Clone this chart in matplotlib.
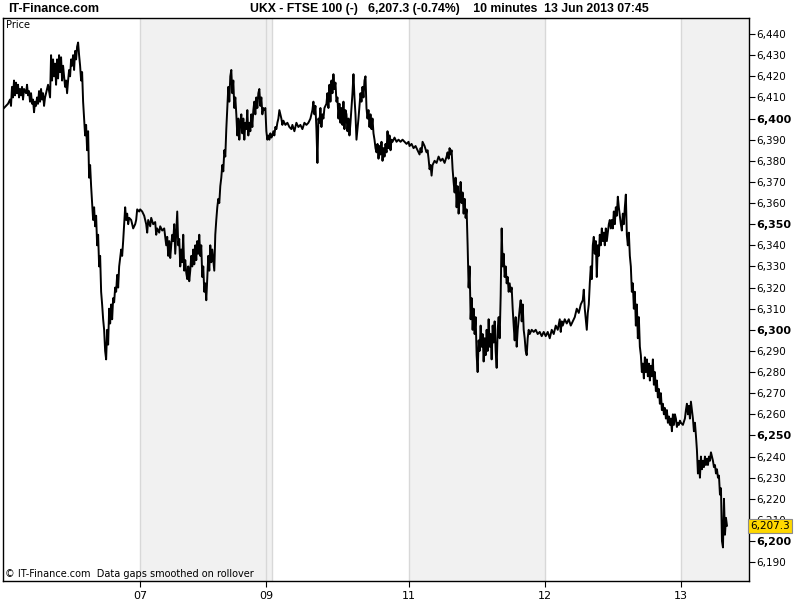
import matplotlib
matplotlib.use("Agg")
import matplotlib.pyplot as plt
import matplotlib.transforms as mtransforms
from matplotlib.ticker import FixedLocator, FuncFormatter

# 10-minute bars, x = bar number, y = FTSE 100 price
jun06 = [(5,6405),(7,6406),(9,6407),(11,6409),(12,6406),(13,6415),(14,6410),(15,6418),(16,6411),
         (17,6417),(18,6412),(19,6416),(20,6410),(21,6414),(22,6411),(23,6415),(24,6409),(25,6414),
         (27,6412),(28,6416),(29,6411),(30,6413),(31,6408),(32,6412),(33,6407),(34,6409),(35,6403),
         (36,6408),(37,6406),(38,6410),(39,6407),(40,6413),(41,6408),(42,6414),(43,6409),(44,6412),
         (45,6406),(46,6410),(48,6414),(49,6416),(50,6413),(51,6410),(52,6430),(53,6418),(54,6428),
         (55,6420),(56,6426),(57,6416),(58,6428),(59,6419),(60,6430),(61,6422),(62,6429),(63,6418),
         (64,6425),(65,6420),(66,6415),(67,6418),(68,6412),(69,6418),(70,6423),(71,6420),(72,6428),
         (73,6425),(74,6430),(75,6423),(76,6432),(77,6428),(78,6434),(79,6436),(80,6430),(81,6425),
         (82,6418),(83,6422),(84,6408),(85,6400),(86,6392),(87,6397),(88,6385),(89,6394),(90,6372),
         (91,6378),(92,6368),(93,6360),(94,6352),(95,6358),(96,6349),(97,6354),(98,6340),(99,6345),
         (100,6330),(101,6335),(102,6318),(103,6312),(104,6305),(105,6300),(106,6290),(107,6286),
         (108,6300),(109,6293),(110,6310),(111,6303),(112,6312),(113,6305),(114,6315),(115,6313),
         (116,6320),(117,6318),(118,6326),(119,6320),(120,6330),(121,6334),(122,6338),(123,6335),
         (124,6342),(125,6350),(126,6358),(127,6352),(128,6355),(129,6350),(130,6353),(132,6352),
         (134,6348),(136,6350),(137,6352),(138,6357),(140,6356)]

jun07 = [(141,6357),(143,6356),(145,6354),(147,6350),(148,6346),(149,6352),(151,6349),(152,6353),
         (154,6350),(156,6351),(157,6345),(158,6348),(160,6346),(161,6349),(163,6347),(165,6348),
         (167,6340),(168,6344),(169,6335),(170,6342),(171,6334),(172,6340),(173,6345),(174,6342),
         (175,6350),(176,6336),(178,6356),(179,6340),(180,6343),(181,6330),(182,6338),(183,6332),
         (184,6345),(185,6328),(186,6333),(187,6327),(188,6324),(189,6330),(190,6323),(191,6328),
         (192,6335),(193,6330),(194,6338),(195,6331),(196,6340),(197,6333),(198,6342),(199,6336),
         (200,6345),(201,6335),(202,6340),(203,6325),(204,6330),(205,6318),(206,6322),(207,6314),
         (208,6325),(209,6335),(210,6328),(211,6340),(212,6332),(213,6338),(215,6328),(216,6345),
         (217,6352),(218,6358),(219,6362),(220,6360),(221,6368),(222,6372),(223,6378),(224,6375),
         (225,6385),(226,6382),(227,6395),(228,6405),(229,6415),(230,6408),(231,6420),(232,6423),
         (233,6412),(234,6418),(235,6405),(236,6410),(237,6402),(238,6392),(239,6400),(240,6390),
         (241,6398),(242,6402),(243,6393),(244,6400),(245,6390),(246,6398),(247,6395),(248,6404),
         (249,6392),(250,6398),(251,6394),(252,6402),(253,6396),(254,6404),(255,6408),(256,6402),
         (257,6410),(258,6405),(259,6412),(260,6414),(261,6406),(262,6410),(263,6402),(264,6405),
         (265,6404),(266,6405)]

jun10 = [(267,6394),(268,6390),(269,6392),(270,6390),(271,6393),(272,6391),(273,6392),(274,6394),
         (275,6392),(276,6396),(277,6395),(278,6398),(279,6400),(280,6404),(281,6402),(282,6400),
         (283,6397),(284,6399),(286,6397),(288,6398),(290,6396),(292,6395),(293,6397),(295,6394),
         (297,6398),(299,6396),(301,6397),(303,6395),(305,6398),(307,6397),(309,6398),(311,6400),
         (313,6404),(314,6408),(315,6402),(316,6406),(317,6395),(318,6379),(319,6400),(320,6398),
         (321,6405),(322,6396),(323,6402),(324,6400),(325,6405),(327,6407),(328,6412),(329,6405),
         (330,6416),(331,6408),(332,6418),(333,6412),(334,6421),(335,6414),(336,6417),(337,6408),
         (338,6410),(339,6400),(340,6407),(341,6398),(342,6405),(343,6397),(344,6408),(345,6395),
         (346,6404),(347,6402),(348,6394),(349,6400),(350,6392),(351,6398),(352,6405),(353,6412),
         (354,6421),(355,6410),(356,6402),(357,6390),(358,6395),(359,6400),(360,6406),(361,6412),
         (362,6408),(363,6415),(364,6410),(365,6418),(366,6420),(367,6405),(368,6400),(369,6404),
         (370,6396),(371,6402),(372,6395),(373,6400),(374,6393),(375,6390),(376,6386),(377,6384),
         (378,6388),(379,6381),(380,6387),(381,6383),(382,6389),(383,6380),(384,6386),(385,6382),
         (386,6388),(387,6384),(388,6394),(389,6386),(390,6392),(391,6385),(392,6390),(393,6389),
         (395,6391),(397,6389),(399,6390),(401,6389),(403,6390),(405,6389),(407,6388),(409,6389)]

jun11 = [(410,6387),(412,6388),(414,6386),(416,6387),(418,6385),(420,6383),(421,6386),(422,6384),
         (423,6389),(425,6387),(427,6384),(428,6385),(429,6381),(430,6376),(431,6378),(432,6373),
         (433,6378),(435,6380),(437,6379),(439,6382),(441,6380),(443,6381),(445,6379),(447,6382),
         (448,6384),(449,6381),(450,6386),(451,6383),(452,6385),(453,6376),(454,6370),(455,6365),
         (456,6372),(457,6358),(458,6368),(459,6355),(460,6362),(461,6370),(462,6360),(463,6365),
         (464,6355),(465,6362),(466,6353),(467,6357),(468,6340),(469,6320),(470,6330),(471,6305),
         (472,6315),(473,6300),(474,6310),(475,6298),(476,6306),(477,6288),(478,6280),(479,6295),
         (480,6290),(481,6302),(482,6292),(483,6298),(484,6285),(485,6296),(486,6288),(487,6300),
         (488,6290),(489,6305),(490,6292),(491,6298),(492,6286),(493,6302),(494,6294),(495,6304),
         (496,6290),(497,6282),(498,6300),(499,6306),(500,6296),(501,6316),(502,6348),(503,6330),
         (504,6336),(505,6325),(506,6330),(507,6322),(508,6325),(509,6318),(510,6322),(511,6318),
         (512,6320),(513,6310),(514,6302),(515,6295),(516,6306),(517,6292),(518,6300),(519,6305),
         (520,6310),(521,6314),(522,6304),(523,6312),(524,6300),(525,6296),(526,6290),(527,6288),
         (528,6296),(529,6300),(530,6298),(532,6300),(534,6299),(536,6300),(538,6298),(540,6299),
         (542,6297),(544,6299)]

jun12 = [(546,6297),(548,6299),(550,6296),(552,6300),(554,6298),(556,6302),(558,6300),(560,6305),
         (561,6299),(562,6304),(563,6302),(565,6305),(567,6303),(569,6305),(571,6302),(573,6304),
         (575,6306),(577,6310),(579,6308),(581,6312),(583,6314),(584,6319),(585,6310),(586,6305),
         (587,6300),(588,6308),(589,6312),(590,6322),(591,6330),(592,6324),(593,6340),(594,6344),
         (595,6336),(596,6342),(597,6325),(598,6340),(599,6335),(600,6345),(601,6340),(602,6348),
         (603,6342),(604,6346),(605,6340),(606,6348),(607,6342),(608,6346),(609,6350),(610,6352),
         (611,6348),(612,6352),(613,6348),(614,6356),(615,6350),(616,6358),(617,6354),(618,6363),
         (619,6358),(620,6354),(621,6350),(622,6347),(623,6355),(624,6350),(625,6358),(626,6364),
         (627,6345),(628,6340),(629,6346),(630,6335),(631,6330),(632,6318),(633,6322),(634,6310),
         (635,6318),(636,6302),(637,6312),(638,6296),(639,6306),(640,6292),(641,6288),(642,6280),
         (643,6284),(644,6277),(645,6287),(646,6280),(647,6286),(648,6278),(649,6284),(650,6276),
         (651,6283),(652,6278),(653,6286),(654,6274),(655,6280),(656,6271),(657,6276),(658,6268),
         (659,6272),(660,6265),(661,6270),(662,6262),(663,6265),(664,6260),(665,6263),(666,6258),
         (667,6262),(668,6256),(669,6259),(670,6255),(671,6258),(672,6252),(673,6260),(674,6255),
         (675,6260),(676,6258),(677,6254),(678,6256),(679,6255),(680,6257)]

jun13 = [(681,6256),(683,6255),(685,6258),(686,6262),(687,6265),(688,6260),(689,6264),(690,6258),
         (691,6266),(692,6262),(693,6258),(694,6252),(695,6256),(696,6250),(697,6243),(698,6232),
         (699,6238),(700,6230),(701,6240),(702,6234),(703,6238),(704,6235),(705,6240),(706,6236),
         (707,6239),(708,6236),(709,6240),(710,6238),(711,6242),(712,6240),(713,6238),(714,6235),
         (715,6236),(716,6232),(717,6234),(718,6230),(719,6231),(720,6222),(721,6225),(722,6200),
         (723,6197),(724,6220),(725,6203),(726,6211),(727,6207.3)]

day_ticks = [141, 267, 409, 545, 681]
day_labels = ["07", "09", "11", "12", "13"]
day_lines = [141, 267, 273, 409, 545, 681]
shaded_days = [(141, 273), (409, 545), (681, 749)]
last_price = 6207.3
header = "UKX - FTSE 100 (-)   6,207.3 (-0.74%)    10 minutes  13 Jun 2013 07:45"

bars, prices = [], []
for day in (jun06, jun07, jun10, jun11, jun12, jun13):
    for b, p in day:
        bars.append(b)
        prices.append(p)

head_font = ["Liberation Sans", "DejaVu Sans"]

fig = plt.figure(figsize=(8, 6), dpi=100)
ax = fig.add_axes([3 / 800, 19 / 600, 746 / 800, 563 / 600])

for a, b in shaded_days:
    ax.axvspan(a, b, color="#f1f1f1", lw=0, zorder=0)
for x in day_lines:
    ax.axvline(x, color="#d8d8d8", lw=1, zorder=0.5)

ax.plot(bars, prices, color="black", lw=1.4, zorder=2)

ax.set_xlim(4, 749)
ax.set_ylim(6181.1, 6447.6)

ax.yaxis.tick_right()
ax.yaxis.set_major_locator(FixedLocator(list(range(6190, 6441, 10))))
ax.yaxis.set_major_formatter(FuncFormatter(lambda v, pos: f"{v:,.0f}"))
ax.set_xticks(day_ticks)
ax.set_xticklabels(day_labels)
ax.tick_params(axis="y", direction="out", length=4, width=0.8, labelsize=7.5, pad=1)
ax.tick_params(axis="x", direction="out", length=4, width=0.8, labelsize=8, pad=3)
for lbl in ax.get_yticklabels():
    if round(float(lbl.get_text().replace(",", ""))) % 50 == 0:
        lbl.set_fontweight("bold")
        lbl.set_fontsize(8)
for sp in ax.spines.values():
    sp.set_color("black")
    sp.set_linewidth(1)

trans = mtransforms.blended_transform_factory(ax.transAxes, ax.transData)
ax.text(1.002, last_price, f"{last_price:,.1f}", transform=trans, ha="left", va="center",
        fontsize=7.5, clip_on=False, zorder=10,
        bbox=dict(boxstyle="square,pad=0.2", fc="#ffd800", ec="#8c8c8c", lw=0.8))

ax.text(0.004, 0.997, "Price", transform=ax.transAxes, ha="left", va="top", fontsize=7)
ax.text(0.003, 0.003, "\u00a9 IT-Finance.com  Data gaps smoothed on rollover", transform=ax.transAxes,
        ha="left", va="bottom", fontsize=7)

fig.text(8 / 800, 1 - 9 / 600, "IT-Finance.com", ha="left", va="center", fontsize=9,
         fontweight="bold", family=head_font)
fig.text(250 / 800, 1 - 9 / 600, header, ha="left", va="center", fontsize=8.8,
         fontweight="bold", family=head_font)

fig.savefig("out.png", dpi=100, facecolor="white")
